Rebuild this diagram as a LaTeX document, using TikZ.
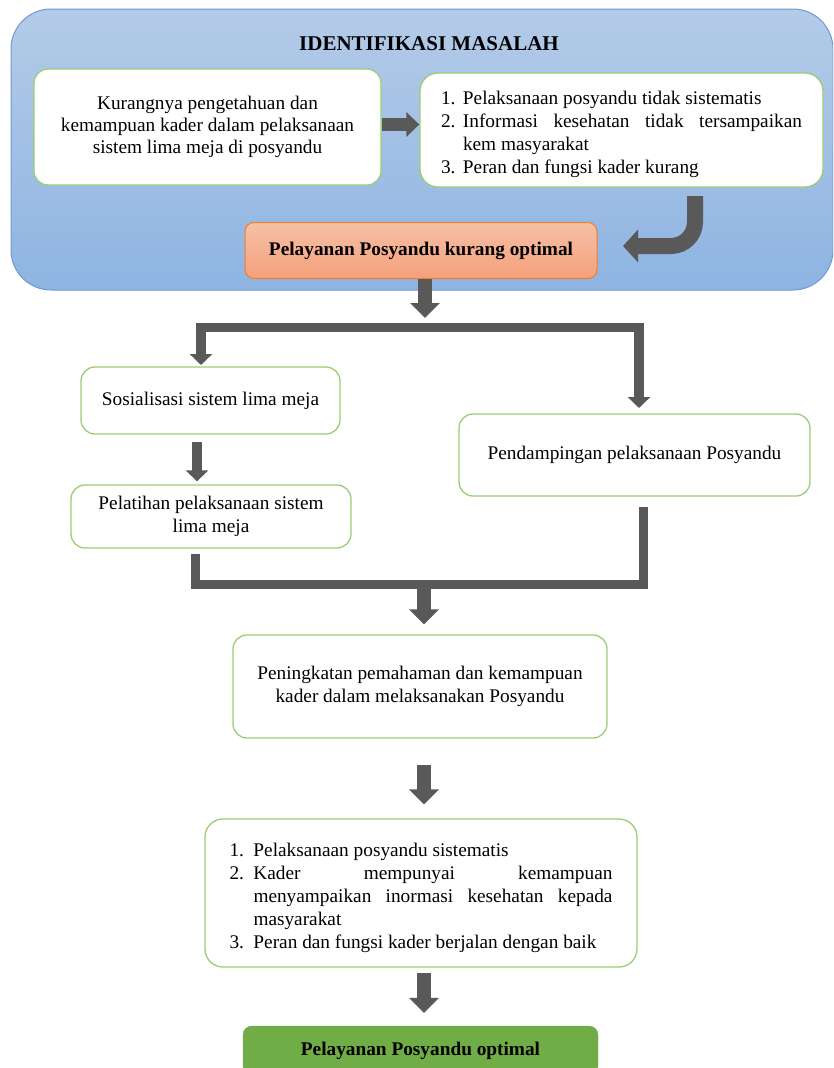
\documentclass[tikz,border=0pt]{standalone}
\usepackage{fontspec}
\setmainfont{Liberation Serif}
\usetikzlibrary{arrows.meta}

\definecolor{bluetop}{RGB}{180,203,232}
\definecolor{bluebot}{RGB}{142,180,226}
\definecolor{blueedge}{RGB}{110,155,212}
\definecolor{greenedge}{RGB}{155,205,115}
\definecolor{orangetop}{RGB}{247,192,167}
\definecolor{orangebot}{RGB}{244,160,122}
\definecolor{orangeedge}{RGB}{237,125,49}
\definecolor{greenfill}{RGB}{112,173,71}
\definecolor{arrowgray}{RGB}{89,89,89}

\newcommand\lstitem[3]{\par\hangindent=#1\hangafter=1\noindent\makebox[#1][l]{#2}#3}

\tikzset{
  basefont/.style={font=\fontsize{19.3}{23}\selectfont},
  container/.style={draw=blueedge, line width=1pt, top color=bluetop, bottom color=bluebot, rounded corners=40pt, inner sep=0pt},
  greenbox/.style={draw=greenedge, line width=1.3pt, fill=white, rounded corners=14pt, inner sep=0pt, align=center, basefont},
  listbox/.style={draw=greenedge, line width=1.3pt, fill=white, rounded corners=18pt, inner ysep=0pt, align=justify, basefont},
  orangebox/.style={draw=orangeedge, line width=1pt, top color=orangetop, bottom color=orangebot, rounded corners=9pt, inner sep=0pt, font=\fontsize{19.3}{23}\selectfont\bfseries},
  finalbox/.style={draw=greenfill, fill=greenfill, rounded corners=9pt, inner sep=0pt, font=\fontsize{19.3}{23}\selectfont\bfseries},
  titletext/.style={inner sep=0pt, font=\fontsize{21}{25}\selectfont\bfseries},
  blockarrow/.style={draw=arrowgray, line width=14pt, -{Triangle[width=29pt,length=15pt]}},
  smallarrow/.style={draw=arrowgray, line width=10pt, -{Triangle[width=22pt,length=11pt]}},
  rightarrow/.style={draw=arrowgray, line width=13pt, -{Triangle[width=24pt,length=13pt]}},
  curvearrow/.style={draw=arrowgray, line width=16pt, rounded corners=24pt, -{Triangle[width=32pt,length=15pt]}},
  barline/.style={draw=arrowgray, line width=9pt, line join=miter},
}

\begin{document}
\begin{tikzpicture}[x=1pt, y=-1pt]
\useasboundingbox (0,0) rectangle (833,1068);
\clip (0,0) rectangle (833,1068);

% container
\node[container, minimum width=822pt, minimum height=281pt] (idbox) at (422,149.5) {};
\node[titletext] (title) at (429,44) {IDENTIFIKASI MASALAH};

\node[greenbox, minimum width=347pt, minimum height=116pt, font=\fontsize{19.3}{22}\selectfont] (boxa) at (207.5,127)
  {Kurangnya pengetahuan dan\\kemampuan kader dalam pelaksanaan\\sistem lima meja di posyandu};

\node[listbox, text width=361pt, inner xsep=21pt, minimum height=114pt] (boxb) at (621.5,130)
  {\hyphenpenalty=10000\tolerance=10000
   \lstitem{22pt}{1.}{Pelaksanaan posyandu tidak sistematis}
   \lstitem{22pt}{2.}{Informasi kesehatan tidak tersampaikan\linebreak kem masyarakat}
   \lstitem{22pt}{3.}{Peran dan fungsi kader kurang}\par};

\node[orangebox, minimum width=352pt, minimum height=56pt] (orange) at (421,250.5)
  {Pelayanan Posyandu kurang optimal};

% second part
\node[greenbox, minimum width=259pt, minimum height=67pt] (sos) at (210.5,400.5)
  {Sosialisasi sistem lima meja};
\node[greenbox, minimum width=351pt, minimum height=82pt] (pend) at (634.5,455)
  {Pendampingan pelaksanaan Posyandu};
\node[greenbox, minimum width=280pt, minimum height=63pt] (pel) at (211,516.5)
  {Pelatihan pelaksanaan sistem\\lima meja};
\node[greenbox, minimum width=374pt, minimum height=103pt] (pen) at (420,686.5)
  {Peningkatan pemahaman dan kemampuan\\kader dalam melaksanakan Posyandu};

\node[listbox, text width=383pt, inner xsep=24.5pt, minimum height=148pt] (res) at (421,893)
  {\hyphenpenalty=10000\tolerance=10000
   \lstitem{24pt}{1.}{Pelaksanaan posyandu sistematis}
   \lstitem{24pt}{2.}{Kader mempunyai kemampuan\linebreak menyampaikan inormasi kesehatan kepada\linebreak masyarakat}
   \lstitem{24pt}{3.}{Peran dan fungsi kader berjalan dengan baik}\par};

\node[finalbox, minimum width=355pt, minimum height=49pt, text height=14pt, text depth=5pt] (final) at (420.5,1050.5)
  {Pelayanan Posyandu optimal};

% coordinates
\coordinate (cstart) at (695,196);
\coordinate (cend) at (623,246);
\coordinate (split) at (425,318);
\coordinate (tipL) at (201,365);
\coordinate (tipR) at (639,408);
\coordinate (join) at (424,584);

% arrows
\draw[rightarrow] (boxa.east |- 0,124.5) -- (boxb.west |- 0,124.5);
\draw[curvearrow] (cstart) |- (cend);
\draw[blockarrow] (orange.south -| split) -- (split);
\draw[barline] (196,327) -- (644,327);
\draw[smallarrow] (tipL |- 0,324) -- (tipL);
\draw[smallarrow] (tipR |- 0,324) -- (tipR);
\draw[smallarrow, shorten <=7pt, shorten >=3pt] (sos.south -| 197,0) -- (pel.north -| 197,0);
\draw[barline, shorten <=5pt, shorten >=10pt] (pel.south -| 195,0) |- (643,584) -- (pend.south -| 643,0);
\draw[blockarrow, shorten >=10pt] (join |- 0,580) -- (pen.north -| join);
\draw[blockarrow, shorten <=26pt, shorten >=14pt] (pen.south -| join) -- (res.north -| join);
\draw[blockarrow, shorten <=5pt, shorten >=13pt] (res.south -| join) -- (final.north -| join);
\end{tikzpicture}
\end{document}
